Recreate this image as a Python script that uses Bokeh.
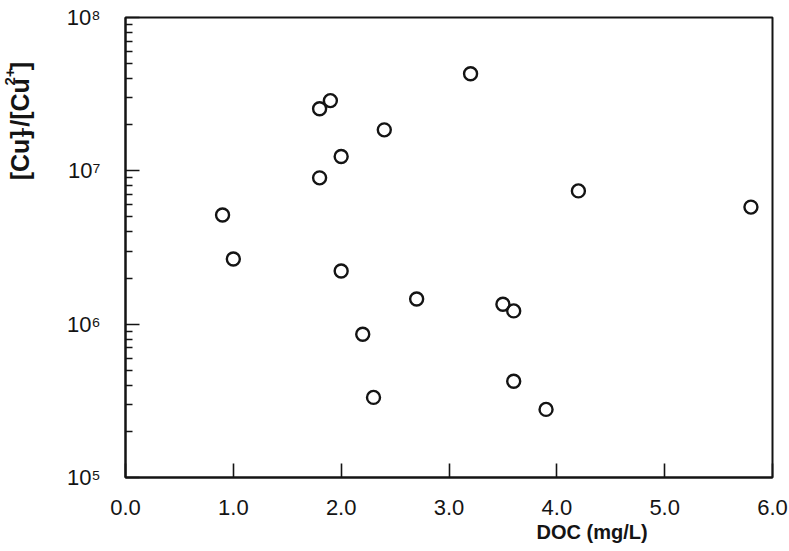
import math
from bokeh.plotting import figure
from bokeh.layouts import row
from bokeh.models import FixedTicker, Range1d, Title
from bokeh.core.properties import value
from bokeh.embed import file_html
from bokeh.resources import INLINE

# ---- data ----
doc = [0.9, 1.0, 1.8, 1.8, 1.9, 2.0, 2.0, 2.2, 2.3, 2.4, 2.7, 3.2, 3.5, 3.6, 3.6, 3.9, 4.2, 5.8]
ratio = [5.15e6, 2.66e6, 2.54e7, 9.0e6, 2.87e7, 1.24e7, 2.22e6, 8.6e5, 3.33e5, 1.85e7,
         1.46e6, 4.3e7, 1.35e6, 1.22e6, 4.24e5, 2.78e5, 7.4e6, 5.8e6]

x_ticks = [0, 1, 2, 3, 4, 5, 6]
x_tick_labels = ["0.0", "1.0", "2.0", "3.0", "4.0", "5.0", "6.0"]
y_ticks = [1e5, 1e6, 1e7, 1e8]
y_tick_labels = ["10\u2075", "10\u2076", "10\u2077", "10\u2078"]
y_minor = [k * 10 ** n for n in (5, 6, 7) for k in range(2, 10)]
x_title = "DOC (mg/L)"
y_title_parts = ["[Cu]", "T", "/[Cu", "2+", "]"]   # [Cu]_T / [Cu^2+]

INK = "#141414"
FONT = "Liberation Sans"
H = 551
LEFT_W = 45

# ---------------- main chart ----------------
p = figure(width=789 - LEFT_W, height=H, y_axis_type="log",
           x_range=Range1d(0, 6), y_range=Range1d(1e5, 1e8),
           output_backend="svg", toolbar_location=None,
           min_border_left=125 - LEFT_W, min_border_right=17,
           min_border_top=17, min_border_bottom=H - 477)
p.background_fill_color = "white"
p.border_fill_color = "white"
p.grid.visible = False
p.outline_line_color = INK
p.outline_line_width = 2

p.scatter(doc, ratio, marker="circle", size=13, fill_color=None,
          line_color=INK, line_width=2.4)

xa = p.xaxis[0]
xa.ticker = FixedTicker(ticks=x_ticks)
xa.major_label_overrides = {t: l for t, l in zip(x_ticks, x_tick_labels)}
ya = p.yaxis[0]
ya.ticker = FixedTicker(ticks=y_ticks, minor_ticks=y_minor)
ya.major_label_overrides = {t: l for t, l in zip(y_ticks, y_tick_labels)}

for ax in (xa, ya):
    ax.axis_line_color = INK
    ax.axis_line_width = 2
    ax.major_tick_line_color = INK
    ax.major_tick_line_width = 1.6
    ax.minor_tick_line_color = INK
    ax.minor_tick_line_width = 1.4
    ax.major_tick_out = 0
    ax.minor_tick_out = 0
    ax.major_tick_in = 14
    ax.minor_tick_in = 7
    ax.major_label_text_font = FONT
    ax.major_label_text_color = INK
    ax.axis_label = None
xa.minor_tick_line_color = None
xa.major_label_text_font_size = "22px"
xa.major_label_standoff = 22
ya.major_label_text_font_size = "22px"
ya.major_label_standoff = 25

p.add_layout(Title(text=x_title, align="left", offset=536 - 125,
                   text_font=FONT, text_font_size="20px",
                   text_font_style="bold", text_color=INK, standoff=3), "below")

# ---------------- y-axis title panel ----------------
q = figure(width=LEFT_W, height=H, x_range=Range1d(0, LEFT_W), y_range=Range1d(H, 0),
           output_backend="svg", toolbar_location=None,
           min_border=0, outline_line_color=None)
q.axis.visible = False
q.grid.visible = False
q.background_fill_color = "white"
q.border_fill_color = "white"

F, f = 25, 15
W = {"[": 0.333, "C": 0.722, "u": 0.611, "]": 0.333, "/": 0.278, "T": 0.611, "2": 0.556, "+": 0.584}
sizes = [F, f, F, f, F]
shifts = [0, 7, 0, -10, 0]
gaps = [2, 3, 1, 1, 0]
base_x = 19
lengths = [sum(W[c] for c in t) * s for t, s in zip(y_title_parts, sizes)]
ycur = 125 + (sum(lengths) + sum(gaps)) / 2
for t, s, dx, L, g in zip(y_title_parts, sizes, shifts, lengths, gaps):
    q.text(x=[base_x + dx], y=[ycur], text=[t], angle=math.pi / 2,
           text_font=value(FONT), text_font_size=f"{s}px", text_font_style="bold",
           text_color=INK, text_align="left", text_baseline="alphabetic")
    ycur -= L + g

layout = row(q, p, spacing=0)
open("out.html", "w").write(file_html(layout, INLINE))
